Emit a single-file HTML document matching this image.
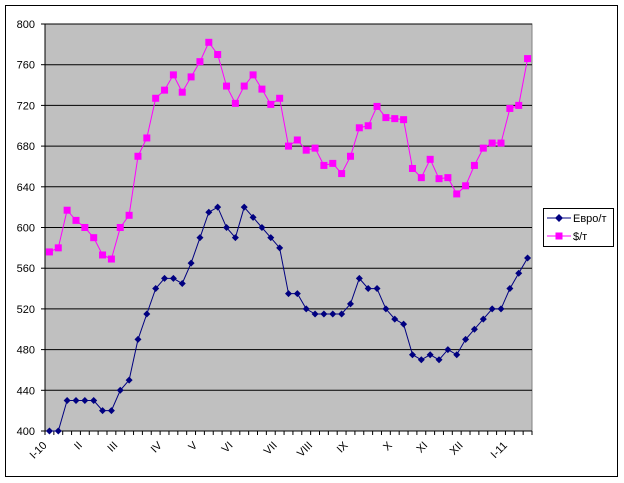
<!DOCTYPE html>
<html><head><meta charset="utf-8"><style>
html,body{margin:0;padding:0;background:#fff;}
svg{display:block;font-family:"Liberation Sans",Arial,sans-serif;}
</style></head><body>
<svg id="s" width="624" height="483" xmlns="http://www.w3.org/2000/svg">
<rect x="5.5" y="5.5" width="612" height="471" fill="#fff" stroke="#000" stroke-width="1"/>
<rect x="45" y="24" width="487" height="407" fill="#c0c0c0" stroke="#808080" stroke-width="1"/>
<g id="g"></g>
<rect x="543.5" y="208.5" width="70" height="38" fill="#fff" stroke="#000"/>
<line x1="547" y1="218" x2="571" y2="218" stroke="#000080" stroke-width="1"/>
<path d="M559 214 L563 218 L559 222 L555 218Z" fill="#000080"/>
<text x="573" y="222" font-size="11">Евро/т</text>
<line x1="547" y1="236" x2="571" y2="236" stroke="#ff00ff" stroke-width="1"/>
<rect x="555.5" y="232.5" width="7" height="7" fill="#ff00ff"/>
<text x="573" y="240" font-size="11">$/т</text>
</svg>
<script>
var g=document.getElementById('g'),h='';
var x0=45,x1=532,yb=431,yt=24,n=55,w=(x1-x0)/n;
function Y(v){return yb-(v-400)*(yb-yt)/400;}
for(var v=440;v<=800;v+=40)h+='<line x1="'+x0+'" x2="'+x1+'" y1="'+Y(v)+'" y2="'+Y(v)+'" stroke="#000" stroke-width="1"/>';
for(var v=400;v<=800;v+=40)h+='<text x="35" y="'+(Y(v)+4)+'" font-size="11" text-anchor="end">'+v+'</text><line x1="41" x2="45" y1="'+Y(v)+'" y2="'+Y(v)+'" stroke="#000"/>';
h+='<line x1="45" x2="45" y1="24" y2="431" stroke="#000"/><line x1="45" x2="532" y1="431" y2="431" stroke="#000"/>';
for(var i=0;i<=n;i++){var x=x0+i*w;h+='<line x1="'+x+'" x2="'+x+'" y1="431" y2="435" stroke="#000"/>';}
var labs=[['I-10',0],['II',4],['III',8],['IV',13],['V',17],['VI',21],['VII',26],['VIII',30],['IX',34],['X',39],['XI',43],['XII',47],['I-11',52]];
labs.forEach(function(l){var x=x0+(l[1]+0.5)*w-2;h+='<text font-size="11" text-anchor="end" transform="translate('+x+',446) rotate(-45)">'+l[0]+'</text>';});
var e=[400,400,430,430,430,430,420,420,440,450,490,515,540,550,550,545,565,590,615,620,600,590,620,610,600,590,580,535,535,520,515,515,515,515,525,550,540,540,520,510,505,475,470,475,470,480,475,490,500,510,520,520,540,555,570];
var d=[576,580,617,607,600,590,573,569,600,612,670,688,727,735,750,733,748,763,782,770,739,722,739,750,736,721,727,680,686,676,678,661,663,653,670,698,700,719,708,707,706,658,649,667,648,649,633,641,661,678,683,683,717,720,766];
function ser(a,c,m){var p='';a.forEach(function(v,i){p+=(i?'L':'M')+(x0+(i+0.5)*w).toFixed(1)+' '+Y(v).toFixed(1);});
h+='<path d="'+p+'" fill="none" stroke="'+c+'" stroke-width="1"/>';
a.forEach(function(v,i){var x=x0+(i+0.5)*w,y=Y(v);
if(m)h+='<path d="M'+x+' '+(y-3.5)+'L'+(x+3.5)+' '+y+'L'+x+' '+(y+3.5)+'L'+(x-3.5)+' '+y+'Z" fill="'+c+'"/>';
else h+='<rect x="'+(x-3.5)+'" y="'+(y-3.5)+'" width="7" height="7" fill="'+c+'"/>';});}
ser(d,'#ff00ff',0);ser(e,'#000080',1);
g.innerHTML=h;
</script>
</body></html>
